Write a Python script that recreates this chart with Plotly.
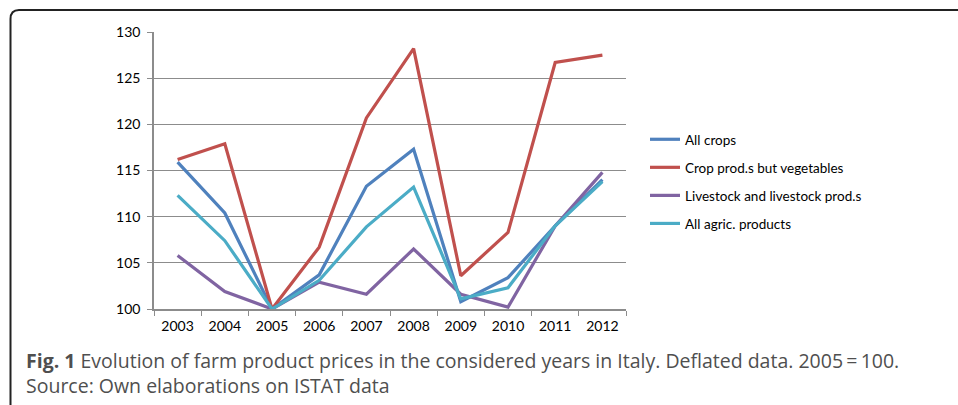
import plotly.graph_objects as go

years = ["2003", "2004", "2005", "2006", "2007", "2008", "2009", "2010", "2011", "2012"]
all_crops = [115.9, 110.4, 100.0, 103.7, 113.3, 117.3, 100.8, 103.4, 109.0, 114.0]
crop_prods = [116.2, 117.9, 100.0, 106.7, 120.7, 128.2, 103.6, 108.3, 126.7, 127.5]
livestock = [105.8, 101.9, 100.0, 102.9, 101.6, 106.5, 101.6, 100.2, 109.0, 114.8]
all_agric = [112.3, 107.4, 100.0, 103.1, 108.9, 113.2, 101.1, 102.3, 109.0, 113.8]

series_names = ["All crops", "Crop prod.s but vegetables", "Livestock and livestock prod.s", "All agric. products"]
series_values = [all_crops, crop_prods, livestock, all_agric]
colors = ["#4F81BD", "#C0504D", "#8064A2", "#4BACC6"]

caption = ("<b>Fig. 1</b> Evolution of farm product prices in the considered years in Italy. "
           "Deflated data. 2005\u2009=\u2009100.<br>Source: Own elaborations on ISTAT data")

W, H = 958, 405
def px(x):
    return x / W
def py(y):
    return 1 - y / H

fig = go.Figure()
for i, (name, vals) in enumerate(zip(series_names, series_values)):
    fig.add_trace(go.Scatter(
        x=years, y=vals, name=name, mode="lines",
        line=dict(color=colors[i], width=3.2),
        legendgroup=name,
    ))

grid = "#8C8C8C"
fig.update_layout(
    width=W, height=H,
    margin=dict(l=0, r=0, t=0, b=0, autoexpand=False),
    paper_bgcolor="white", plot_bgcolor="white",
    font=dict(family="Lato, Open Sans, sans-serif", size=13, color="black"),
    xaxis=dict(
        domain=[px(154), px(626)], type="category", range=[-0.5, 9.5],
        showline=True, linecolor=grid, linewidth=1.5,
        ticks="outside", ticklen=5, tickcolor=grid, tickson="boundaries",
        showgrid=False, tickfont=dict(size=14), automargin=False,
        ticklabelstandoff=3, anchor="y",
    ),
    yaxis=dict(
        domain=[py(309), py(32)], range=[100, 130], tickvals=[100, 105, 110, 115, 120, 125, 130],
        showline=True, linecolor=grid, linewidth=1.5,
        ticks="outside", ticklen=5, tickcolor=grid,
        showgrid=True, gridcolor=grid, gridwidth=1, zeroline=False,
        tickfont=dict(size=14), ticklabelstandoff=4, automargin=False,
        anchor="x",
    ),
    legend=dict(
        x=px(645), y=py(124), xanchor="left", yanchor="top",
        font=dict(size=13.5), tracegroupgap=7.5, traceorder="grouped",
        bgcolor="rgba(0,0,0,0)",
    ),
    showlegend=True,
)

# figure frame with rounded top-left corner
path = (f"M {px(10.5)},{py(405)} L {px(10.5)},{py(19)} "
        f"Q {px(10.5)},{py(10)} {px(19)},{py(10)} L {px(960)},{py(10)}")
fig.add_shape(type="path", path=path, xref="paper", yref="paper",
              line=dict(color="#222222", width=2))

fig.add_annotation(
    x=px(24), y=py(401), xref="paper", yref="paper", xanchor="left", yanchor="bottom",
    text=caption, align="left",
    showarrow=False, font=dict(family="Open Sans, sans-serif", size=19.5, color="#4F4F4F"),
)

fig.write_html(
    "out.html",
    config={"displayModeBar": False},
    post_script="document.body.style.margin='0';document.body.style.overflow='hidden';",
)
